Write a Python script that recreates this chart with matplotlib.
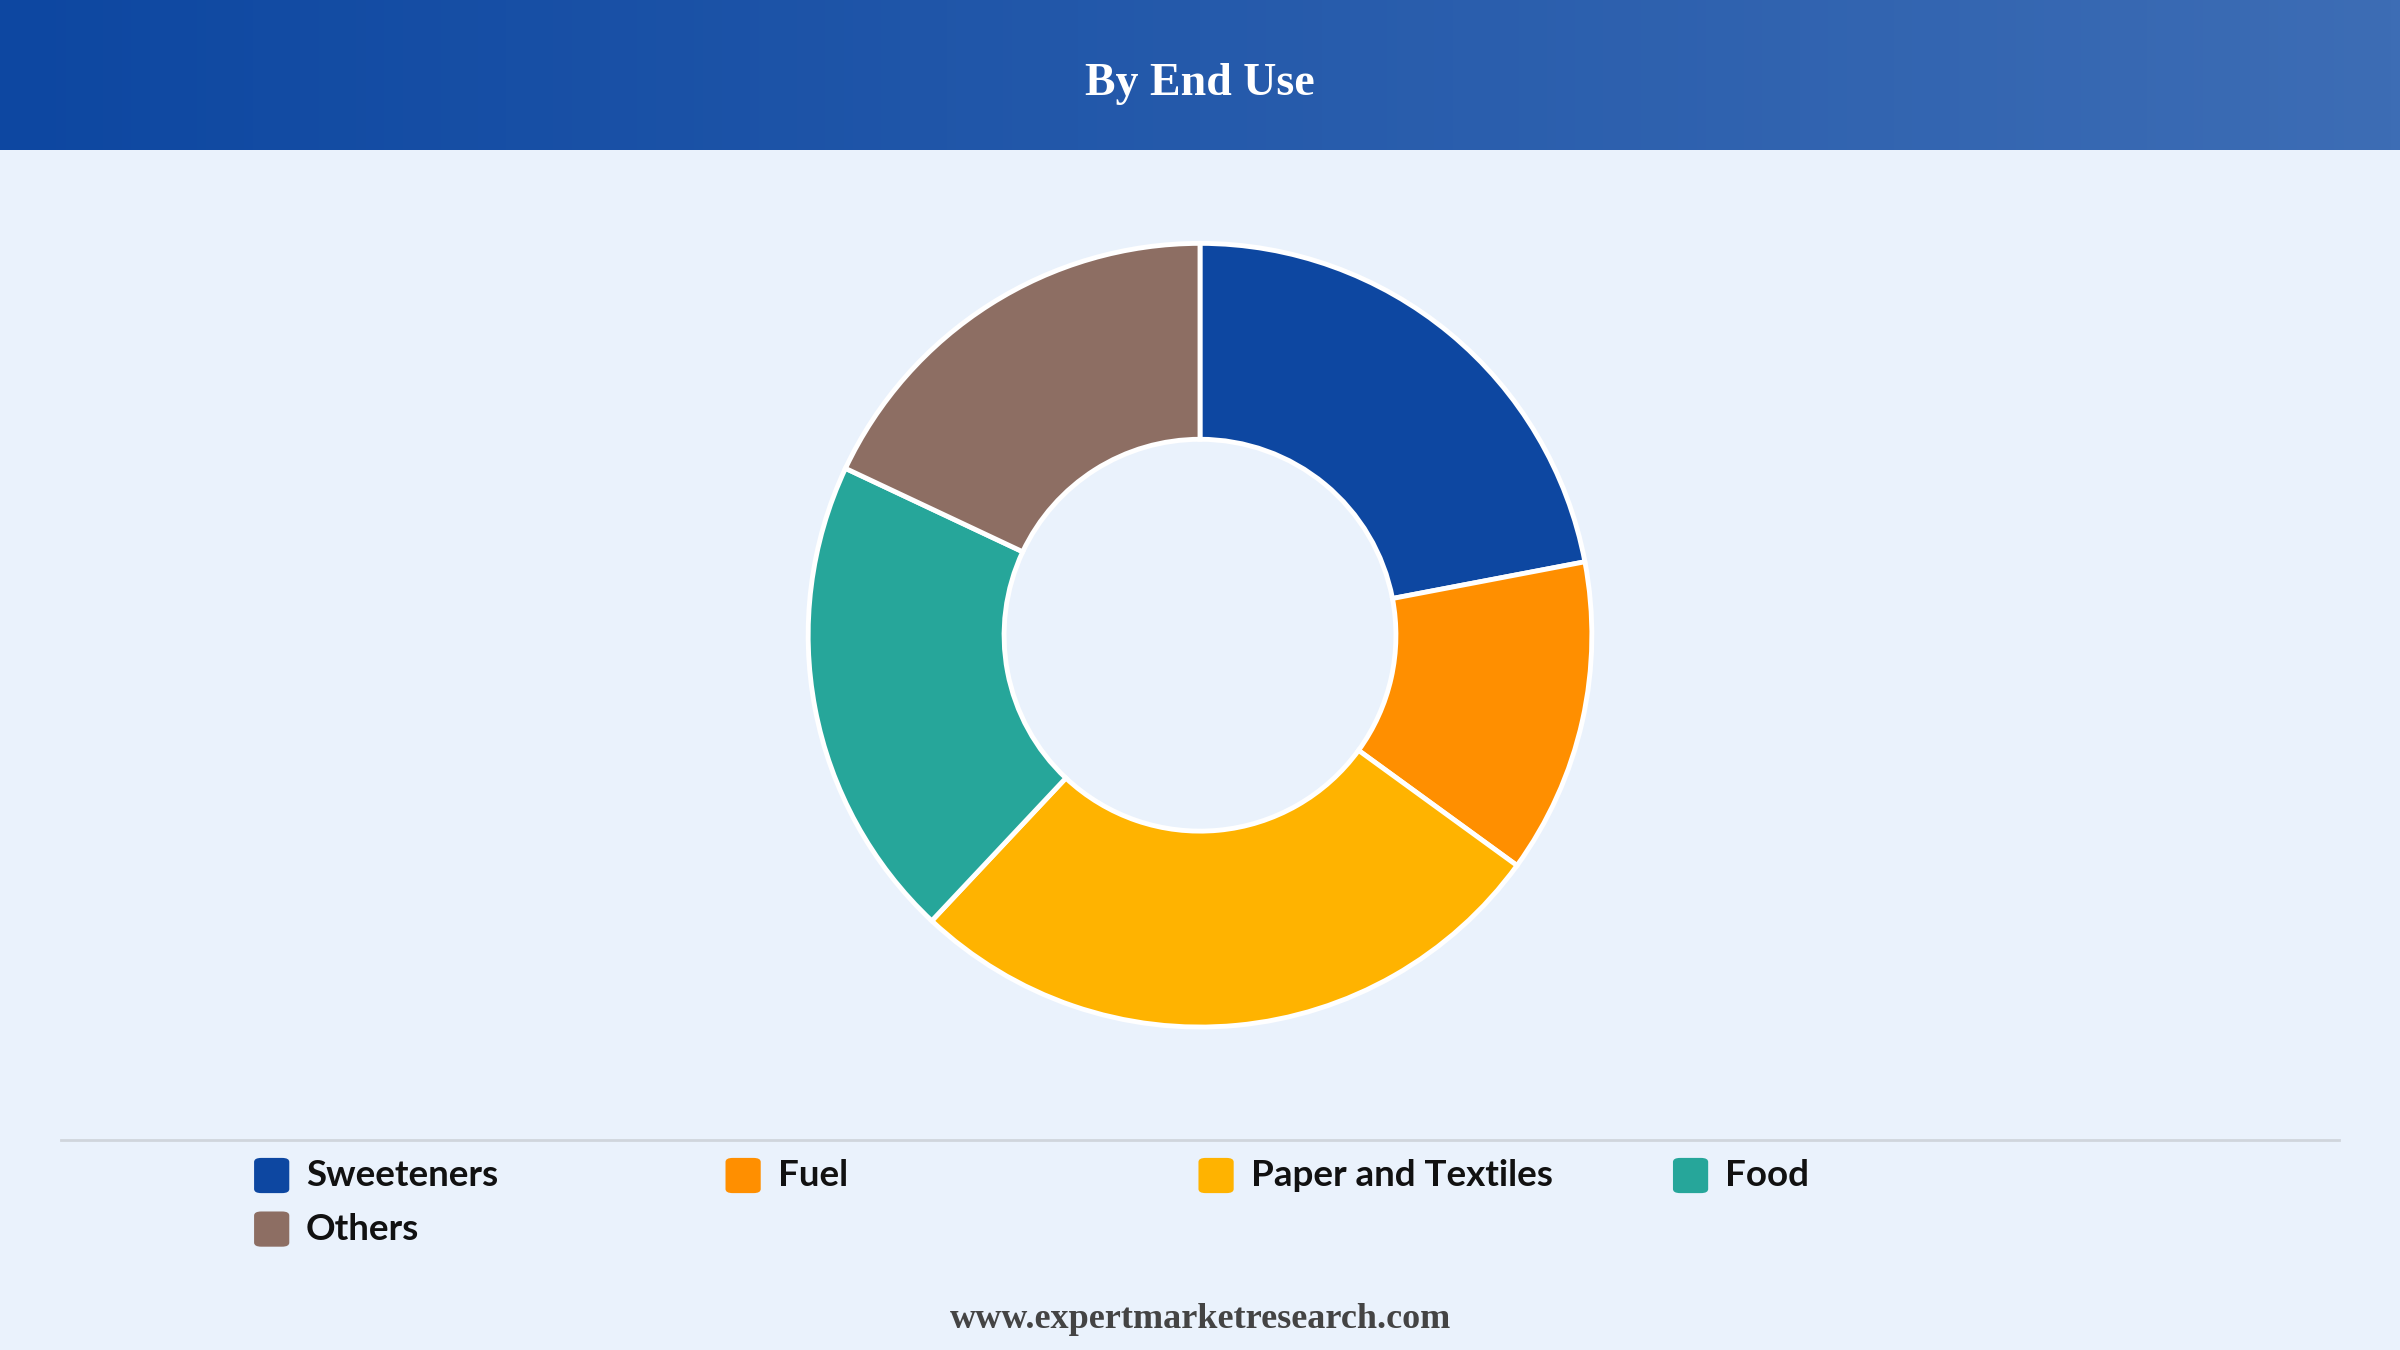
import matplotlib
matplotlib.use("Agg")
import matplotlib.pyplot as plt
import numpy as np
from matplotlib.patches import FancyBboxPatch
from matplotlib.colors import LinearSegmentedColormap

categories = ["Sweeteners", "Fuel", "Paper and Textiles", "Food", "Others"]
values = [22, 13, 27, 20, 18]
colors = ["#0d47a1", "#ff8f00", "#ffb300", "#26a69a", "#8d6e63"]

fig = plt.figure(figsize=(24, 13.5), dpi=100)
fig.patch.set_facecolor("#eaf2fc")

# header gradient
hax = fig.add_axes([0, 1 - 98/882, 1, 98/882])
grad = np.linspace(0, 1, 256).reshape(1, -1)
cmap = LinearSegmentedColormap.from_list("h", ["#0d47a1", "#3d6db5"])
hax.imshow(grad, aspect="auto", cmap=cmap, extent=[0, 1, 0, 1])
hax.set_axis_off()
hax.text(0.5, 0.44, "By End Use", color="white", fontsize=33, fontweight="bold",
         family="Liberation Serif", ha="center", va="center")

h = 2 * 256/882
w = h * 1350 / 2400
ax = fig.add_axes([0.5 - w/2, 1 - 415/882 - h/2, w, h])
ax.pie(values, colors=colors, startangle=90, counterclock=False,
       wedgeprops=dict(width=0.5, edgecolor="white", linewidth=3.5))
ax.set_aspect("equal")
ax.set_xlim(-1.0, 1.0); ax.set_ylim(-1.0, 1.0)

# separator
fig.add_artist(plt.Line2D([40/1568, 1528/1568], [1 - 745/882]*2, color="#d0d5dc", lw=2))

xs = [166, 474, 783, 1093, 166]
ys = [768, 768, 768, 768, 803]
for cat, col, x, y in zip(categories, colors, xs, ys):
    fx = x / 1568; fy = 1 - y / 882
    sw = 23/1568; sh = 23/882
    fig.add_artist(FancyBboxPatch((fx, fy - sh/2), sw, sh, boxstyle="round,pad=0,rounding_size=0.003",
                                  transform=fig.transFigure, facecolor=col, edgecolor="none"))
    fig.text(fx + 34/1568, fy, cat, fontsize=26.5, fontweight="bold", family="Lato",
             va="center", ha="left", color="#111111")

fig.text(0.5, 1 - 862/882, "www.expertmarketresearch.com", fontsize=26, fontweight="bold",
         family="Liberation Serif", ha="center", va="center", color="#444444")

fig.savefig("out.png", dpi=100, facecolor=fig.get_facecolor())
